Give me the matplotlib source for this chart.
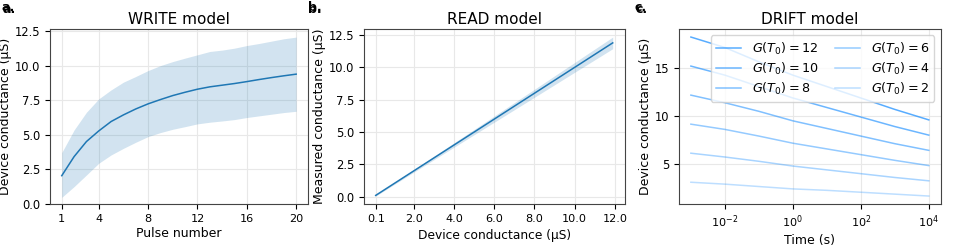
import numpy as np
import matplotlib
matplotlib.use("Agg")
import matplotlib.pyplot as plt

# WRITE model: mean and band over pulse number
pulses = np.arange(1, 21)
write_mean = [2.05, 3.43, 4.52, 5.29, 5.97, 6.45, 6.88, 7.25, 7.56, 7.85,
              8.09, 8.31, 8.48, 8.60, 8.72, 8.86, 9.01, 9.15, 9.28, 9.40]
write_upper = [3.72, 5.36, 6.64, 7.61, 8.26, 8.82, 9.23, 9.66, 10.02, 10.31,
               10.56, 10.80, 11.04, 11.14, 11.28, 11.47, 11.62, 11.79, 11.96, 12.08]
write_lower = [0.48, 1.26, 2.10, 2.95, 3.55, 4.03, 4.47, 4.88, 5.17, 5.41,
               5.60, 5.80, 5.92, 6.01, 6.11, 6.26, 6.38, 6.50, 6.62, 6.71]
cond_ticks = [0, 2.5, 5, 7.5, 10, 12.5]

# READ model
read_device = [0.1, 2.0, 4.0, 6.0, 8.0, 10.0, 11.9]
read_measured = [0.1, 2.0, 4.0, 6.0, 8.0, 10.0, 11.9]
read_spread = [0.05, 0.1, 0.17, 0.24, 0.31, 0.38, 0.45]
read_ticks = [0.1, 2.0, 4.0, 6.0, 8.0, 10.0, 12.0]

# DRIFT model, values read at each decade 1e-3 .. 1e4
drift_time = [1e-3, 1e-2, 1e-1, 1e0, 1e1, 1e2, 1e3, 1e4]
drift_g0 = [12, 10, 8, 6, 4, 2]
drift_12 = [18.3, 17.2, 15.7, 14.3, 13.1, 11.9, 10.7, 9.6]
drift_10 = [15.25, 14.3, 13.1, 11.9, 10.9, 9.9, 8.9, 8.0]
drift_8 = [12.2, 11.4, 10.5, 9.5, 8.7, 7.9, 7.1, 6.4]
drift_6 = [9.15, 8.6, 7.9, 7.15, 6.55, 5.95, 5.35, 4.8]
drift_4 = [6.1, 5.7, 5.25, 4.75, 4.35, 3.95, 3.55, 3.2]
drift_2 = [3.05, 2.85, 2.6, 2.35, 2.2, 2.0, 1.8, 1.6]
drift_curves = [drift_12, drift_10, drift_8, drift_6, drift_4, drift_2]

plt.rcParams['axes.edgecolor'] = '#444444'
plt.rcParams['xtick.labelsize'] = 8.1
plt.rcParams['ytick.labelsize'] = 8.3

fig = plt.figure(figsize=(9.55, 2.52), dpi=100)
ax1 = fig.add_axes([0.0524, 0.1905, 0.270, 0.694])
ax2 = fig.add_axes([0.381, 0.1905, 0.273, 0.694])
ax3 = fig.add_axes([0.711, 0.1905, 0.274, 0.694])

grid_kw = dict(color='#e8e8e8', linewidth=0.8)

# a. WRITE
ax1.fill_between(pulses, write_lower, write_upper, color='C0', alpha=0.2, linewidth=0)
ax1.plot(pulses, write_mean, color='C0', linewidth=1.1)
ax1.set_ylim(bottom=0)
ax1.set_yticks(cond_ticks)
ax1.set_xticks([1, 4, 8, 12, 16, 20])
ax1.set_xlabel('Pulse number', fontsize=9, labelpad=2.5)
ax1.set_ylabel('Device conductance (μS)', fontsize=9, labelpad=2)
ax1.set_title('WRITE model', fontsize=11, pad=4)
ax1.grid(**grid_kw)
ax1.set_axisbelow(True)

# b. READ
lo = np.array(read_measured) - np.array(read_spread)
hi = np.array(read_measured) + np.array(read_spread)
ax2.fill_between(read_device, lo, hi, color='C0', alpha=0.2, linewidth=0)
ax2.plot(read_device, read_measured, color='C0', linewidth=1.1)
ax2.set_yticks(cond_ticks)
ax2.set_xticks(read_ticks)
ax2.set_xticklabels(['%.1f' % t for t in read_ticks])
ax2.set_xlabel('Device conductance (μS)', fontsize=8.8, labelpad=3.5)
ax2.set_ylabel('Measured conductance (μS)', fontsize=9, labelpad=2)
ax2.set_title('READ model', fontsize=11, pad=4)
ax2.grid(**grid_kw)
ax2.set_axisbelow(True)

# c. DRIFT
for g0, vals in zip(drift_g0, drift_curves):
    ax3.plot(drift_time, vals, color='dodgerblue', alpha=0.2 + 0.045 * g0,
             linewidth=1.1, label=r'$G(T_0) = %d$' % g0)
ax3.set_xscale('log')
ax3.set_yticks([5, 10, 15])
ax3.set_xlabel('Time (s)', fontsize=9, labelpad=2.5)
ax3.set_ylabel('Device conductance (μS)', fontsize=9, labelpad=2)
ax3.set_title('DRIFT model', fontsize=11, pad=4)
ax3.grid(**grid_kw)
ax3.set_axisbelow(True)
ax3.legend(loc='upper right', ncol=2, fontsize=9.2, handlelength=2.0,
           columnspacing=1.3, labelspacing=0.3, borderpad=0.4)

# panel letters (drawn twice, slightly offset, like the original)
for x, s in [(0.002, 'a.'), (0.322, 'b.'), (0.664, 'c.')]:
    fig.text(x, 0.995, s, fontsize=9, fontweight='bold', va='top')
    fig.text(x + 0.001, 0.99, s, fontsize=9, fontweight='bold', va='top')

plt.savefig('out.png', dpi=100)
